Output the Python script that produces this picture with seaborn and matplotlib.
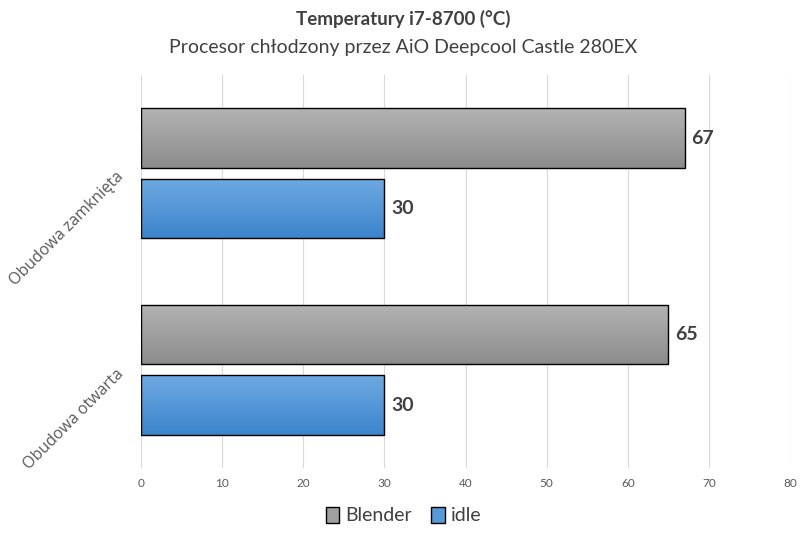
import matplotlib
matplotlib.use("Agg")
import matplotlib.pyplot as plt
from matplotlib.colors import LinearSegmentedColormap
from matplotlib.patches import Patch
import seaborn as sns
import numpy as np
import pandas as pd

categories = ["Obudowa zamknięta", "Obudowa otwarta"]
series = ["Blender", "idle"]
blender = [67, 65]
idle = [30, 30]

df = pd.DataFrame({
    "case": categories * 2,
    "series": ["Blender"] * 2 + ["idle"] * 2,
    "temp": blender + idle,
})

sns.set_style("white")
narrow = ["Lato", "DejaVu Sans"]

fig = plt.figure(figsize=(8.07, 5.37), dpi=100)
ax = fig.add_axes([0.1747, 0.1276, 0.8043, 0.7336])

palette = {"Blender": "#a0a0a0", "idle": "#559ad9"}
sns.barplot(data=df, y="case", x="temp", hue="series", hue_order=series,
            order=categories, orient="h", palette=palette, width=0.711,
            gap=0.157, edgecolor="black", linewidth=1.0, legend=False, ax=ax)

ax.set_xlim(0, 80)
ax.set_xticks(range(0, 81, 10))
ax.grid(axis="x", color="#d9d9d9", linewidth=0.8)
ax.set_axisbelow(True)
for s in ax.spines.values():
    s.set_visible(False)
ax.set_xlabel("")
ax.set_ylabel("")
ax.tick_params(axis="x", length=0, pad=7, labelsize=8.5, labelcolor="#595959")
ax.tick_params(axis="y", length=0, pad=15)
for lbl in ax.get_xticklabels():
    lbl.set_family(narrow)
for lbl in ax.get_yticklabels():
    lbl.set_rotation(45)
    lbl.set_ha("right")
    lbl.set_rotation_mode("anchor")
    lbl.set_fontsize(11.5)
    lbl.set_color("#595959")
    lbl.set_family(["Open Sans", "DejaVu Sans"])

# gradient fill for bars
grads = {
    "Blender": LinearSegmentedColormap.from_list("g", ["#b3b3b3", "#8c8c8c"]),
    "idle": LinearSegmentedColormap.from_list("b", ["#6ea9e2", "#3c85cc"]),
}
xl, yl = ax.get_xlim(), ax.get_ylim()
grad = np.linspace(0, 1, 64).reshape(-1, 1)
for cont, name in zip(ax.containers, series):
    for p in cont:
        x0, y0 = p.get_x(), p.get_y()
        w, h = p.get_width(), p.get_height()
        p.set_facecolor("none")
        im = ax.imshow(grad, extent=[x0, x0 + w, y0 + h, y0], origin="upper",
                       aspect="auto", cmap=grads[name], zorder=p.get_zorder() - 0.01)
        im.set_clip_path(p)
    ax.bar_label(cont, padding=5, fontsize=14, fontweight="bold", color="#404040",
                 family=narrow)
ax.set_xlim(xl)
ax.set_ylim(yl)

fig.text(0.5, 0.964, "Temperatury i7-8700 (°C)", ha="center", va="center",
         fontsize=13.5, fontweight="bold", color="#404040", family=narrow)
fig.text(0.5, 0.911, "Procesor chłodzony przez AiO Deepcool Castle 280EX",
         ha="center", va="center", fontsize=14, color="#404040", family=narrow)

handles = [Patch(facecolor="#a0a0a0", edgecolor="black", label="Blender"),
           Patch(facecolor="#559ad9", edgecolor="black", label="idle")]
fig.legend(handles=handles, loc="center", bbox_to_anchor=(0.5, 0.04), ncol=2,
           frameon=False, handlelength=0.7, handleheight=0.9, handletextpad=0.3,
           columnspacing=1.0, prop={"family": narrow, "size": 14},
           labelcolor="#404040")

fig.savefig("out.png", dpi=100)
